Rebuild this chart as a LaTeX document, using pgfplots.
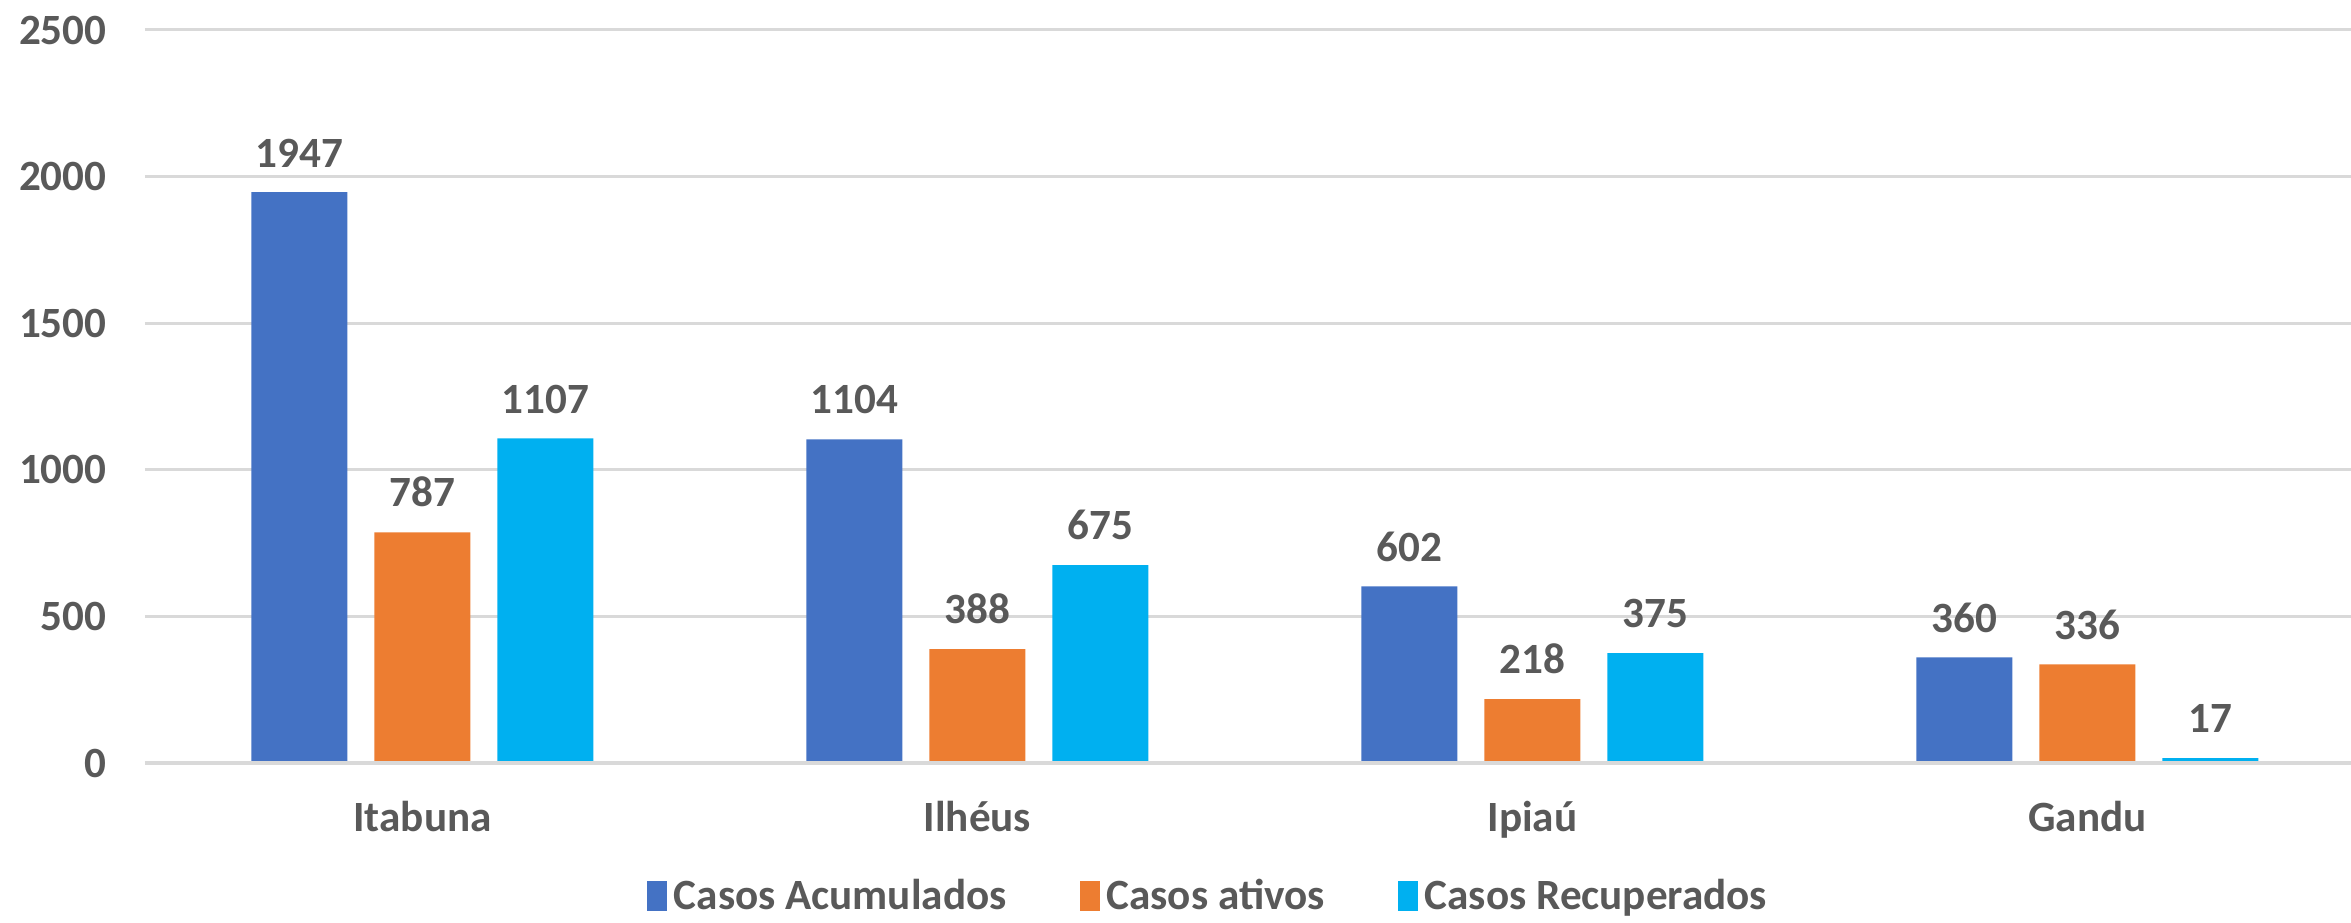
\documentclass[border=0pt]{standalone}
\usepackage{pgfplots}
\pgfplotsset{compat=1.18}
\usepackage{fontspec}
\setmainfont{Carlito}
\definecolor{cblue}{HTML}{4472C4}
\definecolor{corange}{HTML}{ED7D31}
\definecolor{ccyan}{HTML}{00B0F0}
\definecolor{txt}{HTML}{595959}
\definecolor{grd}{HTML}{D9D9D9}
\newcommand{\lblfont}{\bfseries\fontsize{13}{15}\selectfont}
\pgfplotsset{sqleg/.style={legend image code/.code={\fill[##1] (-3bp,-4.5bp) rectangle (3bp,4.5bp);}}}

\begin{document}
\begin{tikzpicture}
\begin{axis}[
    name=ax,
    scale only axis,
    width=661.8bp, height=219.9bp,
    ybar=8.1bp, bar width=28.8bp,
    xmin=-0.5, xmax=3.475,
    ymin=0, ymax=2500,
    ytick={0,500,1000,1500,2000,2500},
    xtick={0,1,2,3},
    xticklabels={Itabuna,Ilhéus,Ipiaú,Gandu},
    axis line style={draw=none},
    major tick length=0pt,
    ymajorgrids=true,
    grid style={grd, line width=0.9bp},
    ticklabel style={font=\lblfont, text=txt},
    yticklabel style={xshift=-8bp},
    xticklabel style={yshift=-8bp},
    /pgf/number format/assume math mode=true,
    /pgf/number format/1000 sep={},
    nodes near coords,
    nodes near coords style={font=\lblfont, text=txt, yshift=4bp},
    clip=false,
    legend columns=3,
    legend style={at={(0.483,-0.182)}, anchor=center, draw=none,
        font=\lblfont, text=txt,
        /tikz/every even column/.append style={column sep=20bp}},
]
\addplot[fill=cblue, draw=none, sqleg]
    coordinates {(0,1947) (1,1104) (2,602) (3,360)};
\addplot[fill=corange, draw=none, sqleg]
    coordinates {(0,787) (1,388) (2,218) (3,336)};
\addplot[fill=ccyan, draw=none, sqleg]
    coordinates {(0,1107) (1,675) (2,375) (3,17)};
\legend{Casos Acumulados, Casos ativos, Casos Recuperados}
\draw[grd, line width=1.4bp] (axis cs:-0.5,0) -- (axis cs:3.475,0);
\end{axis}
\pgfresetboundingbox
\path[use as bounding box] ([shift={(-43.5bp,-47.7bp)}]ax.south west)
    rectangle ([shift={(0bp,9bp)}]ax.north east);
\end{tikzpicture}
\end{document}
